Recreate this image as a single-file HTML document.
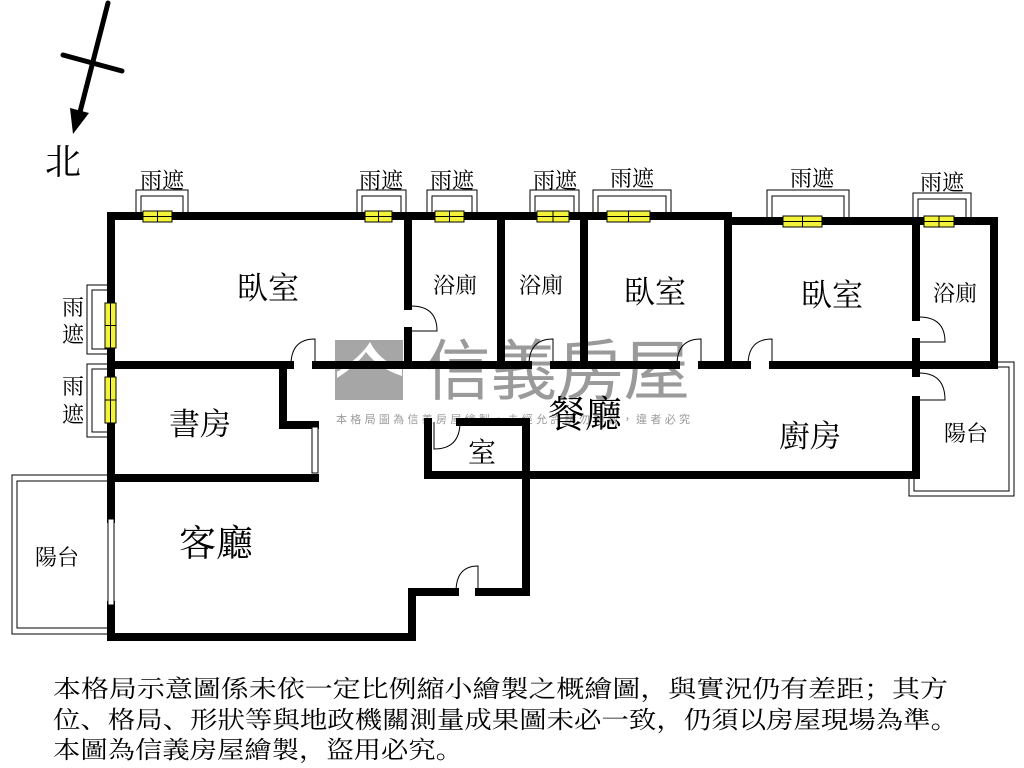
<!DOCTYPE html>
<html><head><meta charset="utf-8"><style>
html,body{margin:0;padding:0;background:#fff;}
svg{display:block}
text{font-family:"Liberation Serif","Noto Serif CJK SC","Noto Serif CJK TC",serif;fill:#000}
.wm{font-family:"Liberation Sans","Noto Sans CJK TC",sans-serif;fill:#9a9a9a}
</style></head><body>
<svg width="1024" height="768" viewBox="0 0 1024 768" xmlns="http://www.w3.org/2000/svg">
<!-- watermark -->
<rect x="335" y="340" width="68" height="60" fill="#a6a6a6"/>
<path d="M337 372 Q360 358 370 342 Q380 362 402 368 L402 376 Q378 368 366 352 Q356 366 337 378Z" fill="#fff"/>
<text class="wm" x="424" y="394" font-size="66" textLength="266" lengthAdjust="spacingAndGlyphs">信義房屋</text>
<text class="wm" x="336" y="423" font-size="11" textLength="354" lengthAdjust="spacing">本格局圖為信義房屋繪製，未經允許請勿轉載，違者必究</text>

<!-- north arrow -->
<line x1="108" y1="3" x2="80" y2="112" stroke="#000" stroke-width="5" stroke-linecap="round"/>
<polygon points="73,134 70,108 89,113" fill="#000"/>
<line x1="63" y1="55" x2="122" y2="71" stroke="#000" stroke-width="5" stroke-linecap="round"/>
<text x="45" y="174" font-size="36">北</text>

<!-- shelters -->
<g fill="none" stroke="#000" stroke-width="1">
<path d="M136 216 V190 H188 V216 M141 216 V196 H183 V216"/>
<path d="M357 216 V190 H406 V216 M362 216 V196 H401 V216"/>
<path d="M427 216 V190 H477 V216 M432 216 V196 H472 V216"/>
<path d="M530 216 V190 H579 V216 M535 216 V196 H574 V216"/>
<path d="M593 216 V190 H671 V216 M598 216 V196 H666 V216"/>
<path d="M767 221 V190 H849 V221 M772 221 V196 H844 V221"/>
<path d="M913 221 V193 H971 V221 M918 221 V199 H966 V221"/>
<path d="M108 285 H87 V354 H108 M108 290 H92 V349 H108"/>
<path d="M108 364 H87 V437 H108 M108 369 H92 V432 H108"/>
<path d="M108 475 H12 V634 H108 M108 481 H17 V628 H108"/>
<path d="M995 362 H1014 V496 H909 V472 M995 367 H1009 V491 H914 V472"/>
</g>

<!-- walls -->
<g fill="none" stroke="#000" stroke-width="8" stroke-linecap="square">
<path d="M111 216 H728 V221 H994 V365"/>
<path d="M111 216 V519 M111 605 V637 H412 V592 H455 M479 592 H526 V472"/>
<path d="M111 365 H290 M316 365 H528 M554 365 H676 M702 365 H747 M773 365 H994"/>
<path d="M408 216 V306 M408 331 V365"/>
<path d="M501 216 V365 M584 216 V365 M728 221 V365"/>
<path d="M916 221 V317 M916 342 V373 M916 400 V475 H526"/>
<path d="M283 365 V425 H315 M111 478 H315"/>
<path d="M428 422 V475 H526 M460 422 H526 V475"/>
</g>
<rect x="312" y="427" width="6" height="46" fill="#fff" stroke="#000" stroke-width="1"/>
<rect x="108" y="519" width="6" height="86" fill="#fff" stroke="#000" stroke-width="1"/>

<!-- doors -->
<g fill="none" stroke="#000" stroke-width="1">
<path d="M411 306 Q437 306 437 331 H411"/>
<path d="M291 365 Q291 339 315 339 V365"/>
<path d="M529 365 Q529 339 553 339 V365"/>
<path d="M677 365 Q677 339 701 339 V365"/>
<path d="M748 365 Q748 339 772 339 V365"/>
<path d="M919 317 Q945 317 945 342 H919"/>
<path d="M919 373 Q945 373 945 400 H919"/>
<path d="M434 422 V449 Q460 449 460 422"/>
<path d="M456 592 Q456 566 478 566 V592"/>
</g>

<!-- yellow windows -->
<g fill="#f2f23a" stroke="#000" stroke-width="1">
<rect x="143" y="211" width="29" height="11"/><rect x="365" y="211" width="27" height="11"/>
<rect x="435" y="211" width="29" height="11"/><rect x="537" y="211" width="32" height="11"/>
<rect x="607" y="211" width="43" height="11"/><rect x="783" y="216" width="39" height="11"/>
<rect x="924" y="216" width="30" height="11"/>
<rect x="105" y="303" width="11" height="45"/><rect x="105" y="377" width="11" height="46"/>
</g>
<g stroke="#000" stroke-width="1">
<line x1="143" y1="216.5" x2="172" y2="216.5"/><line x1="157.5" y1="211" x2="157.5" y2="222"/>
<line x1="365" y1="216.5" x2="392" y2="216.5"/><line x1="378.5" y1="211" x2="378.5" y2="222"/>
<line x1="435" y1="216.5" x2="464" y2="216.5"/><line x1="449.5" y1="211" x2="449.5" y2="222"/>
<line x1="537" y1="216.5" x2="569" y2="216.5"/><line x1="553" y1="211" x2="553" y2="222"/>
<line x1="607" y1="216.5" x2="650" y2="216.5"/><line x1="628.5" y1="211" x2="628.5" y2="222"/>
<line x1="783" y1="221.5" x2="822" y2="221.5"/><line x1="802.5" y1="216" x2="802.5" y2="227"/>
<line x1="924" y1="221.5" x2="954" y2="221.5"/><line x1="939" y1="216" x2="939" y2="227"/>
<line x1="110.5" y1="303" x2="110.5" y2="348"/><line x1="105" y1="325.5" x2="116" y2="325.5"/>
<line x1="110.5" y1="377" x2="110.5" y2="423"/><line x1="105" y1="400" x2="116" y2="400"/>
</g>

<!-- labels -->
<g font-size="22" text-anchor="middle">
<text x="162" y="188">雨遮</text><text x="381" y="188">雨遮</text><text x="452" y="188">雨遮</text>
<text x="555" y="188">雨遮</text><text x="632" y="186">雨遮</text><text x="812" y="186">雨遮</text>
<text x="942" y="190">雨遮</text>
<text x="73" y="315">雨</text><text x="73" y="342">遮</text>
<text x="73" y="394">雨</text><text x="73" y="422">遮</text>
<text x="455" y="293">浴廁</text><text x="541" y="293">浴廁</text><text x="955" y="301">浴廁</text>
<text x="966" y="441">陽台</text><text x="57" y="565">陽台</text>
</g>
<g font-size="31" text-anchor="middle">
<text x="268" y="299">臥室</text><text x="655" y="303">臥室</text><text x="832" y="306">臥室</text>
<text x="200" y="435">書房</text><text x="810" y="447">廚房</text>
<text x="482" y="462" font-size="28">室</text>
</g>
<g font-size="37" text-anchor="middle">
<text x="216" y="556">客廳</text><text x="585" y="427">餐廳</text>
</g>
<g font-size="24">
<text x="53" y="697" textLength="895" lengthAdjust="spacingAndGlyphs">本格局示意圖係未依一定比例縮小繪製之概繪圖，與實況仍有差距；其方</text>
<text x="53" y="728" textLength="905" lengthAdjust="spacingAndGlyphs">位、格局、形狀等與地政機關測量成果圖未必一致，仍須以房屋現場為準。</text>
<text x="53" y="758" textLength="410" lengthAdjust="spacingAndGlyphs">本圖為信義房屋繪製，盜用必究。</text>
</g>
</svg>
</body></html>
